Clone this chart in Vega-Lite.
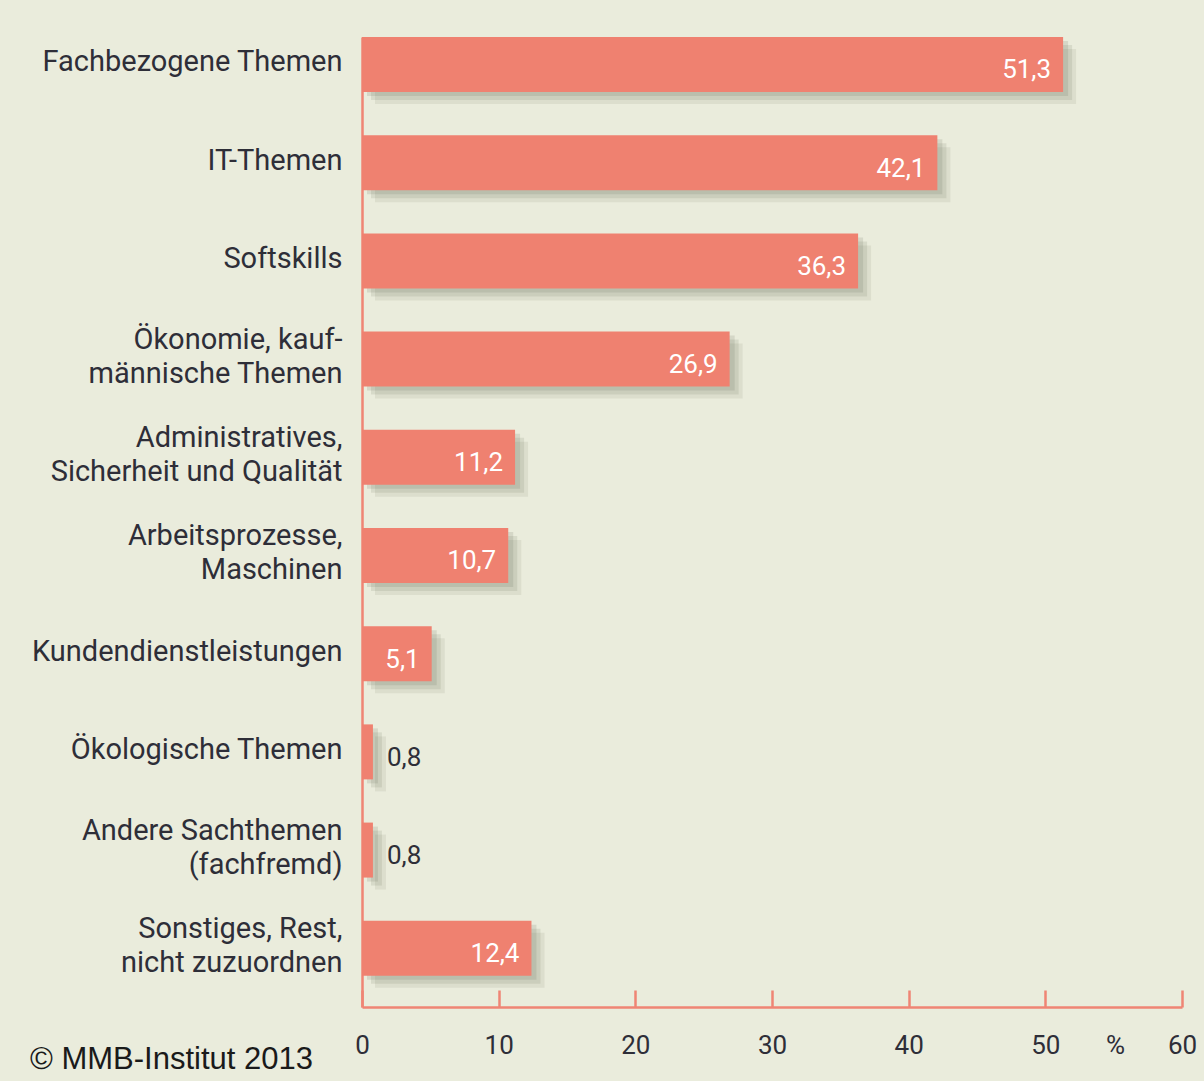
{
  "$schema": "https://vega.github.io/schema/vega-lite/v6.json",
  "width": 820,
  "height": 970,
  "autosize": "none",
  "padding": {"left": 362, "top": 37, "right": 22, "bottom": 74},
  "background": "#EAECDC",
  "config": {
    "view": {"stroke": null},
    "locale": {"number": {"decimal": ",", "thousands": ".", "grouping": [3], "currency": ["", " €"]}}
  },
  "title": {
    "text": "© MMB-Institut 2013",
    "orient": "bottom",
    "anchor": "start",
    "frame": "group",
    "dx": -332,
    "offset": 11,
    "baseline": "alphabetic",
    "font": "Liberation Sans",
    "fontSize": 31,
    "fontWeight": "normal",
    "color": "#1a1a1a"
  },
  "data": {
    "values": [
      {"cat": "Fachbezogene Themen", "value": 51.3},
      {"cat": "IT-Themen", "value": 42.1},
      {"cat": "Softskills", "value": 36.3},
      {"cat": "Ökonomie, kauf-|männische Themen", "value": 26.9},
      {"cat": "Administratives,|Sicherheit und Qualität", "value": 11.2},
      {"cat": "Arbeitsprozesse,|Maschinen", "value": 10.7},
      {"cat": "Kundendienstleistungen", "value": 5.1},
      {"cat": "Ökologische Themen", "value": 0.8},
      {"cat": "Andere Sachthemen|(fachfremd)", "value": 0.8},
      {"cat": "Sonstiges, Rest,|nicht zuzuordnen", "value": 12.4}
    ]
  },
  "encoding": {
    "y": {
      "field": "cat",
      "type": "nominal",
      "sort": null,
      "scale": {"paddingInner": 0.44, "paddingOuter": 0.159, "align": 0},
      "axis": {
        "title": null,
        "domain": true,
        "domainColor": "#EF8574",
        "domainWidth": 2.5,
        "ticks": false,
        "labelPadding": 20,
        "labelFont": "Roboto",
        "labelFontSize": 29,
        "labelColor": "#2e2e38",
        "labelLineHeight": 34,
        "labelLimit": 400,
        "labelOffset": {"condition": {"test": "indexof(datum.value, '|') >= 0", "value": -19}, "value": -2},
        "labelExpr": "split(datum.label, '|')"
      }
    },
    "x": {
      "field": "value",
      "type": "quantitative",
      "scale": {"domain": [0, 60], "nice": false},
      "axis": {
        "values": [0, 10, 20, 30, 40, 50, 60],
        "grid": false,
        "domainColor": "#EF8574",
        "domainWidth": 2.5,
        "tickColor": "#EF8574",
        "tickWidth": 2.5,
        "tickSize": -17,
        "labelPadding": 42,
        "labelFont": "Roboto",
        "labelFontSize": 26,
        "labelColor": "#2e2e38",
        "labelFlush": false,
        "labelOverlap": false,
        "title": "%",
        "titleX": 753,
        "titleY": 38,
        "titleAlign": "center",
        "titleBaseline": "middle",
        "titleFont": "Roboto",
        "titleFontSize": 26,
        "titleFontWeight": "normal",
        "titleColor": "#2e2e38"
      }
    }
  },
  "layer": [
    {"mark": {"type": "bar", "color": "#5f6650", "opacity": 0.1, "xOffset": 13, "x2Offset": 13, "yOffset": 12, "y2Offset": 12}},
    {"mark": {"type": "bar", "color": "#5f6650", "opacity": 0.13, "xOffset": 9, "x2Offset": 9, "yOffset": 8, "y2Offset": 8}},
    {"mark": {"type": "bar", "color": "#5f6650", "opacity": 0.15, "xOffset": 5, "x2Offset": 5, "yOffset": 4, "y2Offset": 4}},
    {"mark": {"type": "bar", "color": "#EF8170"}},
    {
      "transform": [{"filter": "datum.value >= 5"}],
      "mark": {"type": "text", "align": "right", "baseline": "middle", "dx": -12, "dy": 6, "font": "Roboto", "fontSize": 26, "color": "#ffffff"},
      "encoding": {"text": {"field": "value", "type": "quantitative", "format": ".1f"}}
    },
    {
      "transform": [{"filter": "datum.value < 5"}],
      "mark": {"type": "text", "align": "left", "baseline": "middle", "dx": 14, "dy": 6, "font": "Roboto", "fontSize": 26, "color": "#2e2e38"},
      "encoding": {"text": {"field": "value", "type": "quantitative", "format": ".1f"}}
    }
  ]
}
